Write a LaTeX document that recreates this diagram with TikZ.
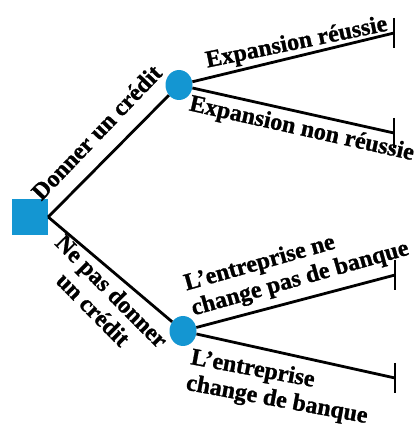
\documentclass[tikz,border=0pt]{standalone}
\usepackage{fontspec}
\setmainfont{Liberation Serif}[BoldFeatures={FakeBold=1}]
\usetikzlibrary{positioning,calc,shapes.geometric}
\definecolor{nodeblue}{HTML}{1496D2}
\tikzset{
  decision/.style={rectangle,fill=nodeblue,minimum size=36pt,inner sep=0pt},
  chance/.style={ellipse,fill=nodeblue,minimum width=27pt,minimum height=30pt,inner sep=0pt},
  branch/.style={line width=2.8pt},
  endbar/.style={line width=2.8pt},
  lbl/.style={font=\bfseries\fontsize{24}{26}\selectfont,inner sep=1.5pt,sloped},
}
\begin{document}
\begin{tikzpicture}[x=1pt,y=1pt]
\useasboundingbox (0,0) rectangle (417,440);
\node[decision] (root) at (30,223) {};
\node[chance] (c1) at (179,355) {};
\node[chance] (c2) at (183,109) {};
\coordinate (e1) at (394,407);
\coordinate (e2) at (394,307);
\coordinate (e3) at (395,165);
\coordinate (e4) at (395,62);
% first move
\draw[branch] (root.east) -- node[lbl,above=14pt,pos=0.55,rotate=1] {Donner un crédit} (c1);
\draw[branch] (root.east) -- node[lbl,below=4pt,pos=0.6,rotate=-5,align=center] {Ne pas donner\\un crédit} (c2);
% second move
\draw[branch] (c1) -- node[lbl,above=-1pt,pos=0.53,rotate=-2] {Expansion réussie} (e1);
\draw[branch] (c1) -- node[lbl,below=3pt,pos=0.56] {Expansion non réussie} (e2);
\draw[branch] (c2) -- node[lbl,above=6pt,pos=0.55,rotate=1,align=left] {L’entreprise ne\\change pas de banque} (e3);
\draw[branch] (c2) -- node[lbl,below=8pt,pos=0.45,rotate=2,align=left] {L’entreprise\\change de banque} (e4);
% end bars
\foreach \e in {e1,e2,e3,e4}
  \draw[endbar] ($(\e)+(0,15)$) -- ($(\e)+(0,-15)$);
\end{tikzpicture}
\end{document}
